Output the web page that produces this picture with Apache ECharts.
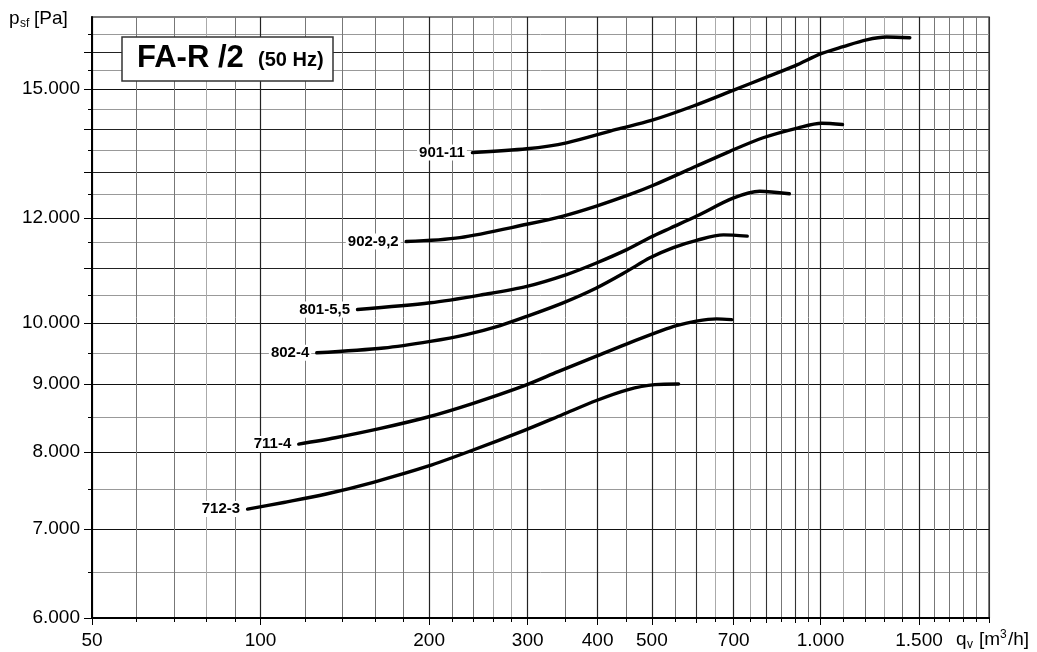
<!DOCTYPE html>
<html><head><meta charset="utf-8">
<script src="https://cdn.jsdelivr.net/npm/echarts@6/dist/echarts.min.js"></script>
<style>html,body{margin:0;padding:0;background:#fff}#c{width:1037px;height:652px}</style>
</head><body><div id="c"></div>
<script>
// ---- data ----
const seriesNames = ['901-11', '902-9,2', '801-5,5', '802-4', '711-4', '712-3'];
const s901_11 = [[239,13440],[299,13530],[352,13670],[432,13990],[499,14210],[593,14570],[698,14970],[801,15320],[900,15620],[1005,15960],[1098,16150],[1209,16340],[1312,16420],[1444,16400]];
const s902_92 = [[182,11520],[227,11600],[299,11870],[347,12040],[398,12250],[457,12500],[503,12700],[601,13130],[689,13470],[790,13790],[913,14030],[1005,14140],[1095,14110]];
const s801_55 = [[149,10240],[201,10360],[250,10510],[299,10660],[352,10880],[398,11100],[451,11360],[496,11600],[539,11790],[601,12040],[698,12420],[779,12570],[880,12515]];
const s802_4  = [[126,9500],[166,9580],[201,9690],[233,9805],[268,9960],[299,10120],[347,10360],[398,10630],[451,10940],[496,11200],[546,11400],[601,11545],[671,11655],[740,11630]];
const s711_4  = [[117,8110],[136,8200],[163,8330],[199,8500],[239,8700],[296,8975],[340,9195],[398,9446],[449,9641],[520,9871],[553,9958],[600,10035],[652,10075],[694,10063]];
const s712_3  = [[94.8,7246],[110,7330],[130.5,7435],[159,7591],[199,7805],[239,8024],[296,8306],[345,8530],[398,8747],[452,8910],[506,8990],[558,9000]];
const seriesData = [s901_11, s902_92, s801_55, s802_4, s711_4, s712_3];

const xMin = 50, xMax = 2000, yMin = 6000, yMax = 17000;
const xLabelValues = [50, 100, 200, 300, 400, 500, 700, 1000, 1500];
const xLabelTexts  = ['50', '100', '200', '300', '400', '500', '700', '1.000', '1.500'];
const xGridDark  = [600, 800, 900, 2000];
const xGridMid   = [60, 70, 90, 120, 140, 160, 180, 220, 240, 350, 450, 550, 850, 950, 1200, 1400, 1600, 1700, 1800, 1900];
const xGridLight = [80, 260, 280, 650, 750, 1100, 1300];
const yLabelValues = [6000, 7000, 8000, 9000, 10000, 12000, 15000];
const yLabelTexts  = ['6.000', '7.000', '8.000', '9.000', '10.000', '12.000', '15.000'];
const yGridDark  = [11000, 13000, 14000, 16000];
const yGridMinor = [6500, 7500, 8500, 9500, 10500, 11500, 12500, 13500, 14500, 15500, 16500];

const FONT = "'Liberation Sans', Arial, sans-serif";

function lookup(vals, texts) {
  return function (v) {
    for (let i = 0; i < vals.length; i++) {
      if (Math.abs(Math.log(v / vals[i])) < 1e-4) return texts[i];
    }
    return '';
  };
}

function axis(dim, vals, o) {
  const a = {
    type: 'log', logBase: 10, gridIndex: 0,
    min: dim === 'x' ? xMin : yMin, max: dim === 'x' ? xMax : yMax,
    position: dim === 'x' ? 'bottom' : 'left',
    axisLine: { show: !!o.line, lineStyle: { color: '#000', width: 2 } },
    axisTick: { show: true, customValues: vals, length: o.tick, lineStyle: { color: '#000', width: 1 } },
    axisLabel: { show: false },
    splitLine: { show: true, lineStyle: { color: o.color, width: o.w } },
    minorTick: { show: false }, minorSplitLine: { show: false },
    silent: true
  };
  if (o.texts) {
    a.axisLabel = {
      show: true, customValues: vals, formatter: lookup(vals, o.texts),
      color: '#000', fontSize: 19, fontFamily: FONT, margin: dim === 'x' ? 13 : 12
    };
  }
  return a;
}

const chart = echarts.init(document.getElementById('c'), null, { renderer: 'canvas' });

const series = seriesNames.map(function (name, i) {
  const data = seriesData[i].map(function (p, j) {
    if (j !== 0) return p;
    return {
      value: p,
      label: {
        show: true, position: 'left', distance: 5, formatter: name,
        color: '#000', fontWeight: 'bold', fontSize: 15, fontFamily: FONT,
        backgroundColor: '#fff', padding: [1, 2, 0, 2]
      }
    };
  });
  return {
    type: 'line', name: name, xAxisIndex: 0, yAxisIndex: 0, data: data,
    smooth: 0.3,
    symbol: 'circle', symbolSize: 1, showSymbol: true,
    itemStyle: { color: '#000' },
    lineStyle: { color: '#000', width: 3.4, cap: 'round', join: 'round' },
    emphasis: { disabled: true }, silent: true, z: 5
  };
});

chart.setOption({
  animation: false,
  backgroundColor: '#fff',
  grid: { left: 92, right: 48, top: 17, bottom: 34, show: true, borderColor: '#555', borderWidth: 1.5, backgroundColor: '#fff' },
  xAxis: [
    axis('x', xLabelValues, { line: true, tick: 7, color: '#222', w: 1.2, texts: xLabelTexts }),
    axis('x', xGridDark, { tick: 5, color: '#333', w: 1.1 }),
    axis('x', xGridMid, { tick: 4, color: '#777', w: 1 }),
    axis('x', xGridLight, { tick: 4, color: '#aaa', w: 1 })
  ],
  yAxis: [
    axis('y', yLabelValues, { line: true, tick: 8, color: '#111', w: 1.2, texts: yLabelTexts }),
    axis('y', yGridDark, { tick: 8, color: '#222', w: 1.2 }),
    axis('y', yGridMinor, { tick: 4, color: '#999', w: 1 })
  ],
  series: series,
  graphic: [
    { type: 'rect', shape: { x: 122, y: 37, width: 211, height: 44 }, style: { fill: '#fff', stroke: '#333', lineWidth: 1.5 }, z: 10 },
    { type: 'text', x: 137, y: 58, style: { text: 'FA-R /2', font: "bold 31px " + FONT, fill: '#000', verticalAlign: 'middle' }, z: 11 },
    { type: 'text', x: 258, y: 60, style: { text: '(50 Hz)', font: "bold 20px " + FONT, fill: '#000', verticalAlign: 'middle' }, z: 11 },
    { type: 'text', x: 9, y: 19, style: { text: 'p', font: "19px " + FONT, fill: '#000', verticalAlign: 'middle' }, z: 11 },
    { type: 'text', x: 20, y: 24, style: { text: 'sf', font: "12px " + FONT, fill: '#000', verticalAlign: 'middle' }, z: 11 },
    { type: 'text', x: 34, y: 19, style: { text: '[Pa]', font: "19px " + FONT, fill: '#000', verticalAlign: 'middle' }, z: 11 },
    { type: 'text', x: 956, y: 640, style: { text: 'q', font: "19px " + FONT, fill: '#000', verticalAlign: 'middle' }, z: 11 },
    { type: 'text', x: 967, y: 645, style: { text: 'v', font: "12px " + FONT, fill: '#000', verticalAlign: 'middle' }, z: 11 },
    { type: 'text', x: 979, y: 640, style: { text: '[m', font: "19px " + FONT, fill: '#000', verticalAlign: 'middle' }, z: 11 },
    { type: 'text', x: 1000, y: 635, style: { text: '3', font: "12px " + FONT, fill: '#000', verticalAlign: 'middle' }, z: 11 },
    { type: 'text', x: 1008, y: 640, style: { text: '/h]', font: "19px " + FONT, fill: '#000', verticalAlign: 'middle' }, z: 11 }
  ]
});
</script>
</body></html>
